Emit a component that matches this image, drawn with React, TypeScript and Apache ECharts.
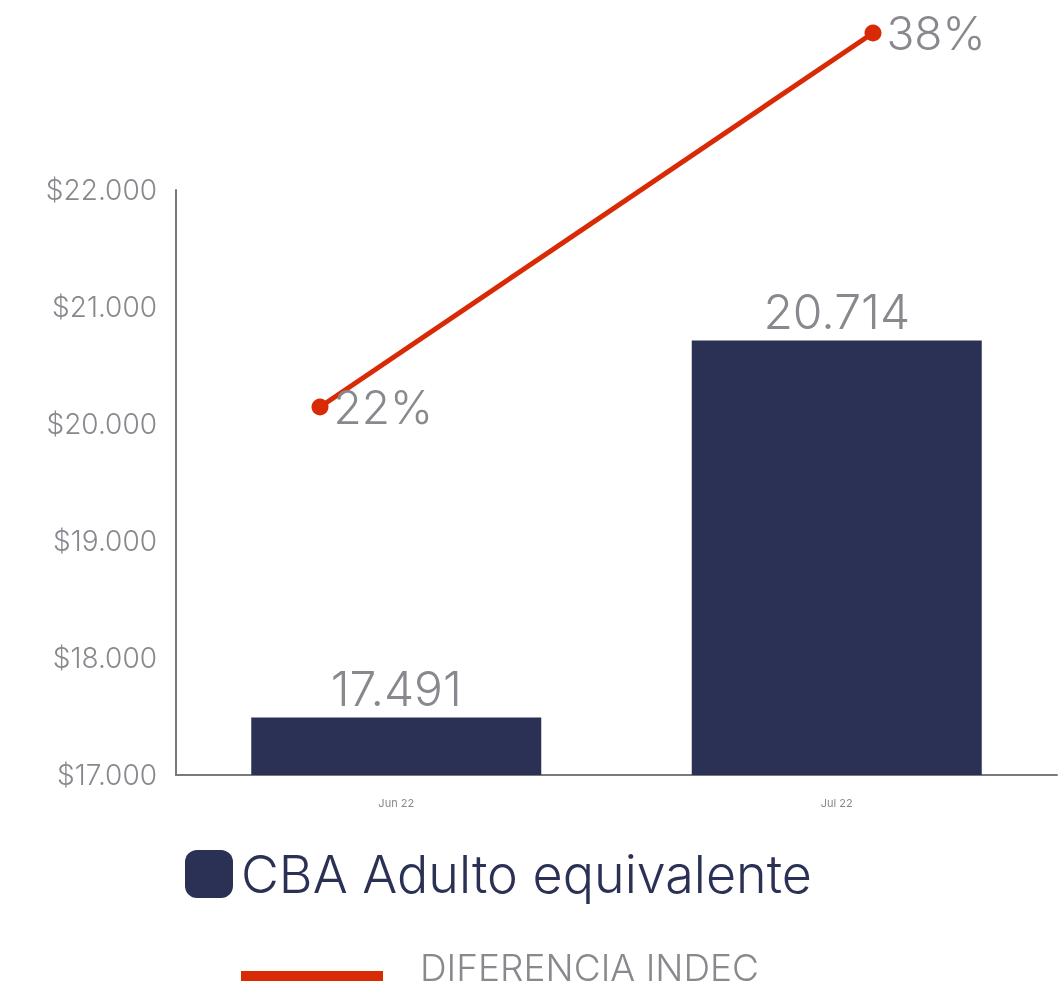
import React, { useEffect, useRef } from "react";
import * as echarts from "echarts";

const categories = ["Jun 22", "Jul 22"];
const cbaValues = [17491, 20714];
const diffValues = [22, 38];
const yTicks = [17000, 18000, 19000, 20000, 21000, 22000];
const barSeriesName = "CBA Adulto equivalente";
const lineSeriesName = "DIFERENCIA INDEC";

const NAVY = "#2a3154";
const RED = "#d82a05";
const GRAY = "#88888e";
const FONT = "Inter, 'Open Sans', sans-serif";

const fmtThousands = (v: number) =>
  String(v).replace(/\B(?=(\d{3})+(?!\d))/g, ".");

export default function App() {
  const ref = useRef<HTMLDivElement>(null);
  useEffect(() => {
    if (!ref.current) return;
    const chart = echarts.init(ref.current, null, { renderer: "svg" });
    chart.setOption({
      animation: false,
      textStyle: { fontFamily: FONT },
      grid: [
        { left: 176, right: 6, top: 190, bottom: 210 },
        { left: 320, right: 190, top: 33, height: 374 },
      ],
      legend: [
        {
          data: [{ name: barSeriesName, icon: "roundRect" }],
          left: 185,
          top: 848,
          padding: 0,
          itemWidth: 48,
          itemHeight: 48,
          textStyle: {
            fontSize: 52,
            lineHeight: 48,
            color: NAVY,
            fontFamily: FONT,
            fontWeight: 300,
            padding: [0, 0, 0, 3],
          },
          selectedMode: false,
        },
      ],
      graphic: [
        {
          type: "rect",
          left: 241,
          top: 971,
          shape: { width: 142, height: 10 },
          style: { fill: RED },
        },
        {
          type: "text",
          style: {
            x: 420,
            y: 967,
            text: lineSeriesName,
            fontSize: 37,
            align: "left",
            verticalAlign: "middle",
            fontFamily: FONT,
            fontWeight: 300,
            fill: GRAY,
          },
        },
      ],
      xAxis: [
        {
          type: "category",
          gridIndex: 0,
          data: categories,
          axisLine: { lineStyle: { color: "#7a7a7a", width: 2 } },
          axisTick: { show: false },
          axisLabel: { fontSize: 11, color: GRAY, margin: 22, fontFamily: FONT },
        },
        {
          type: "category",
          gridIndex: 1,
          data: categories,
          boundaryGap: false,
          show: false,
        },
      ],
      yAxis: [
        {
          type: "value",
          gridIndex: 0,
          min: yTicks[0],
          max: yTicks[yTicks.length - 1],
          interval: 1000,
          splitLine: { show: false },
          axisLine: { show: true, lineStyle: { color: "#7a7a7a", width: 2 } },
          axisTick: { show: false },
          axisLabel: {
            fontSize: 28,
            color: GRAY,
            margin: 19,
            fontFamily: FONT,
            fontWeight: 300,
            formatter: (v: number) => "$" + fmtThousands(v),
          },
        },
        {
          type: "value",
          gridIndex: 1,
          min: 22,
          max: 38,
          show: false,
          splitLine: { show: false },
        },
      ],
      series: [
        {
          name: barSeriesName,
          type: "bar",
          xAxisIndex: 0,
          yAxisIndex: 0,
          data: cbaValues,
          barWidth: 290,
          itemStyle: { color: NAVY },
          label: {
            show: true,
            position: "top",
            distance: 5,
            fontSize: 48,
            color: GRAY,
            fontFamily: FONT,
            fontWeight: 300,
            formatter: (p: any) => fmtThousands(p.value),
          },
        },
        {
          name: lineSeriesName,
          type: "line",
          xAxisIndex: 1,
          yAxisIndex: 1,
          data: diffValues,
          clip: false,
          symbol: "circle",
          symbolSize: 17,
          lineStyle: { color: RED, width: 5 },
          itemStyle: { color: RED },
          label: {
            show: true,
            position: "right",
            distance: 5,
            fontSize: 46,
            color: GRAY,
            fontFamily: FONT,
            fontWeight: 300,
            formatter: (p: any) => p.value + "%",
          },
        },
      ],
    });
    return () => chart.dispose();
  }, []);
  return (
    <div
      ref={ref}
      style={{ position: "fixed", left: 0, top: 0, width: 1063, height: 985 }}
    />
  );
}
